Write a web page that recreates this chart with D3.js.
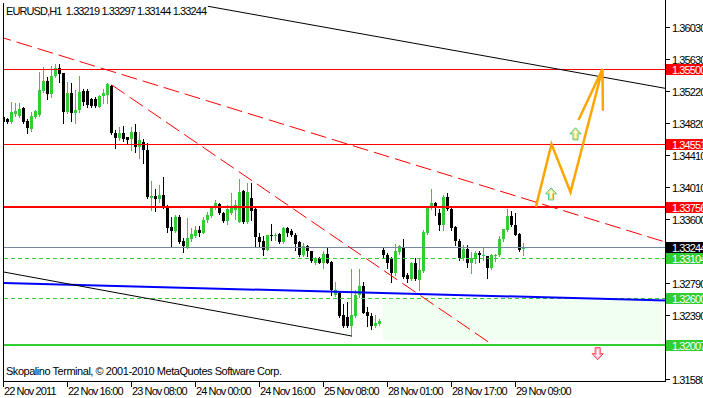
<!DOCTYPE html>
<html>
<head>
<meta charset="utf-8">
<script src="https://cdn.jsdelivr.net/npm/d3@7"></script>
<style>
body { margin: 0; background: #fff; }
svg { display: block; font-family: "Liberation Sans", Arial, sans-serif; font-size: 11px; letter-spacing: -0.9px; }
</style>
</head>
<body>
<svg id="chart" width="703" height="398"></svg>
<script>
// EURUSD H1 bars, 22 Nov 2011 00:00 .. 29 Nov 2011 11:00
var openP = [1.3489,1.3487,1.3483,1.3493,1.3491,1.3501,1.3484,1.3474,1.3489,1.3492,
 1.3522,1.3535,1.3518,1.3541,1.3551,1.3545,1.3496,1.3520,1.3494,1.3498,
 1.3522,1.3522,1.3512,1.3512,1.3502,1.3516,1.3517,1.3528,1.3469,1.3463,
 1.3469,1.3464,1.3461,1.3470,1.3451,1.3458,1.3448,1.3387,1.3389,1.3386,
 1.3391,1.3377,1.3350,1.3345,1.3363,1.3333,1.3324,1.3335,1.3339,1.3346,
 1.3343,1.3359,1.3364,1.3375,1.3379,1.3368,1.3358,1.3368,1.3372,1.3357,
 1.3396,1.3357,1.3387,1.3373,1.3338,1.3333,1.3321,1.3340,1.3339,1.3341,
 1.3331,1.3349,1.3345,1.3340,1.3331,1.3315,1.3326,1.3320,1.3305,1.3311,
 1.3305,1.3316,1.3306,1.3264,1.3267,1.3239,1.3237,1.3225,1.3238,1.3264,
 1.3275,1.3243,1.3238,1.3225,1.3227,1.3321,1.3315,1.3311,1.3292,1.3319,
 1.3325,1.3290,1.3284,1.3305,1.3283,1.3295,1.3343,1.3374,1.3381,1.3368,
 1.3353,1.3388,1.3373,1.3350,1.3333,1.3311,1.3322,1.3305,1.3310,1.3317,
 1.3314,1.3314,1.3298,1.3314,1.3315,1.3335,1.3346,1.3364,1.3353,1.3341,
 1.33219];
var highP = [1.3492,1.3488,1.3508,1.3507,1.3507,1.3502,1.3487,1.3496,1.3498,1.3546,
 1.3552,1.3540,1.3554,1.3556,1.3556,1.3545,1.3533,1.3532,1.3523,1.3541,
 1.3525,1.3525,1.3513,1.3515,1.3517,1.3525,1.3532,1.3530,1.3473,1.3477,
 1.3478,1.3464,1.3477,1.3480,1.3470,1.3461,1.3456,1.3408,1.3398,1.3403,
 1.3413,1.3378,1.3363,1.3365,1.3365,1.3336,1.3361,1.3349,1.3351,1.3351,
 1.3363,1.3369,1.3377,1.3384,1.3381,1.3369,1.3378,1.3393,1.3384,1.3411,
 1.3397,1.3406,1.3406,1.3375,1.3343,1.3339,1.3340,1.3354,1.3343,1.3343,
 1.3350,1.3350,1.3348,1.3343,1.3333,1.3330,1.3327,1.3320,1.3312,1.3312,
 1.3320,1.3324,1.3307,1.3281,1.3268,1.3253,1.3255,1.3297,1.3271,1.3297,
 1.3280,1.3249,1.3241,1.3239,1.3234,1.3324,1.3317,1.3312,1.3329,1.3327,
 1.3335,1.3292,1.3306,1.3311,1.3311,1.3346,1.3375,1.3398,1.3382,1.3373,
 1.3391,1.3393,1.3374,1.3351,1.3335,1.3327,1.3327,1.3319,1.3320,1.3320,
 1.3324,1.3314,1.3316,1.3316,1.3339,1.3348,1.3373,1.3370,1.3368,1.3343,
 1.33297];
var lowP = [1.3480,1.3482,1.3482,1.3491,1.3489,1.3482,1.3469,1.3472,1.3488,1.3491,
 1.3521,1.3512,1.3515,1.3540,1.3533,1.3482,1.3494,1.3484,1.3482,1.3496,
 1.3504,1.3502,1.3502,1.3502,1.3502,1.3507,1.3507,1.3468,1.3450,1.3460,
 1.3459,1.3455,1.3448,1.3445,1.3437,1.3431,1.3387,1.3372,1.3370,1.3382,
 1.3374,1.3344,1.3325,1.3344,1.3330,1.3319,1.3324,1.3333,1.3338,1.3339,
 1.3343,1.3357,1.3363,1.3373,1.3366,1.3357,1.3354,1.3366,1.3360,1.3357,
 1.3355,1.3355,1.3359,1.3325,1.3325,1.3315,1.3321,1.3334,1.3334,1.3330,
 1.3330,1.3339,1.3339,1.3321,1.3314,1.3314,1.3314,1.3306,1.3303,1.3305,
 1.3298,1.3305,1.3264,1.3263,1.3237,1.3224,1.3224,1.3212,1.3237,1.3262,
 1.3241,1.3225,1.3221,1.3224,1.3226,1.3312,1.3298,1.3281,1.3290,1.3316,
 1.3286,1.3281,1.3283,1.3283,1.3271,1.3293,1.3341,1.3373,1.3365,1.3346,
 1.3346,1.3372,1.3346,1.3327,1.3308,1.3308,1.3300,1.3292,1.3305,1.3306,
 1.3308,1.3286,1.3297,1.3307,1.3314,1.3333,1.3345,1.3351,1.3340,1.3320,
 1.33144];
var closeP = [1.3483,1.3483,1.3496,1.3497,1.3499,1.3483,1.3475,1.3491,1.3497,1.3523,
 1.3535,1.3518,1.3541,1.3551,1.3544,1.3496,1.3520,1.3494,1.3498,1.3521,
 1.3508,1.3504,1.3503,1.3503,1.3516,1.3520,1.3531,1.3469,1.3463,1.3469,
 1.3461,1.3460,1.3470,1.3451,1.3460,1.3448,1.3388,1.3389,1.3386,1.3391,
 1.3375,1.3349,1.3345,1.3363,1.3331,1.3326,1.3336,1.3341,1.3346,1.3343,
 1.3359,1.3365,1.3375,1.3381,1.3368,1.3358,1.3373,1.3374,1.3378,1.3394,
 1.3357,1.3394,1.3370,1.3338,1.3331,1.3321,1.3340,1.3339,1.3340,1.3331,
 1.3349,1.3343,1.3340,1.3329,1.3315,1.3326,1.3320,1.3307,1.3311,1.3305,
 1.3316,1.3305,1.3271,1.3271,1.3238,1.3225,1.3225,1.3239,1.3264,1.3275,
 1.3241,1.3238,1.3225,1.3229,1.3231,1.3315,1.3305,1.3292,1.3320,1.3326,
 1.3287,1.3284,1.3305,1.3284,1.3296,1.3344,1.3374,1.3381,1.3374,1.3353,
 1.3388,1.3373,1.3349,1.3333,1.3311,1.3322,1.3305,1.3311,1.3317,1.3315,
 1.3315,1.3298,1.3315,1.3315,1.3335,1.3348,1.3364,1.3353,1.3340,1.3321,
 1.33244];

var timeTickBars = [0, 16, 32, 48, 64, 80, 96, 112, 128];
var timeTickLabels = ["22 Nov 2011", "22 Nov 16:00", "23 Nov 08:00", "24 Nov 00:00", "24 Nov 16:00",
                      "25 Nov 08:00", "28 Nov 01:00", "28 Nov 17:00", "29 Nov 09:00"];
var priceTicks = [1.36030, 1.35630, 1.35220, 1.34820, 1.34410, 1.34010, 1.33600, 1.32790, 1.32390, 1.31580];

var resistLevels = [1.35500, 1.34551];
var pivotLevel = 1.33756;
var bidPrice = 1.33244;
var supportDashed = [1.33104, 1.32600];
var supportLevel = 1.32007;

// trend lines as [bar, price] anchor pairs
var trendRed = [[0, 1.35891], [165.4, 1.33312]];
var trendRedSteep = [[27, 1.35300], [121.6, 1.32035]];
var trendBlackTop = [[51.1, 1.36292], [165.4, 1.35255]];
var trendBlackLow = [[0, 1.32933], [87, 1.32124]];
var blueLine = [[0, 1.32794], [165.4, 1.32572]];
var forecast = [[133.1, 1.33756], [137, 1.34551], [141.75, 1.33940], [149.75, 1.35500]];
var forecastHead = [[143.75, 1.34854], [149.75, 1.35500], [149.85, 1.34972]];
var upArrows = [[136.9, 1.33920], [143, 1.34680]];
var downArrows = [[148.55, 1.31900]];
var zoneBars = [95, 164.9];
var zonePrices = [1.32600, 1.32073];

var title = "EURUSD,H1  1.33219 1.33297 1.33144 1.33244";
var copyright = "Skopalino Terminal, \u00a9 2001-2010 MetaQuotes Software Corp.";

var svg = d3.select("#chart");
var plotLeft = 3.5, plotRight = 665.5, plotTop = 3, plotBottom = 381.5;

var x = d3.scaleLinear().domain([0, 1]).range([3.5, 7.5]);
var y = d3.scaleLinear().domain([1.31580, 1.36030]).range([379, 27]);

var green = "#32cd32";

svg.append("rect").attr("width", 703).attr("height", 398).attr("fill", "#fff");

svg.append("clipPath").attr("id", "plot")
    .append("rect").attr("x", 4).attr("y", plotTop).attr("width", plotRight - 4).attr("height", plotBottom - plotTop);

var plot = svg.append("g").attr("clip-path", "url(#plot)");

// light green zone
plot.append("rect")
    .attr("x", x(zoneBars[0]) - 0.5)
    .attr("y", y(zonePrices[0]))
    .attr("width", x(zoneBars[1]) - x(zoneBars[0]))
    .attr("height", y(zonePrices[1]) - y(zonePrices[0]))
    .attr("fill", "#f0fff0");

// candles
var bars = d3.range(openP.length);
var candle = plot.append("g").attr("shape-rendering", "crispEdges");
function col(i){ return closeP[i] > openP[i] ? green : "#000"; }
candle.selectAll("line").data(bars).enter().append("line")
    .attr("x1", function(i){ return x(i); })
    .attr("x2", function(i){ return x(i); })
    .attr("y1", function(i){ return Math.round(y(highP[i])); })
    .attr("y2", function(i){ return Math.round(y(lowP[i])) + 1; })
    .attr("stroke", col);
candle.selectAll("rect").data(bars).enter().append("rect")
    .attr("x", function(i){ return x(i) - 1.5; })
    .attr("y", function(i){ return Math.round(y(Math.max(openP[i], closeP[i]))); })
    .attr("width", 3)
    .attr("height", function(i){ return Math.max(1, Math.round(y(Math.min(openP[i], closeP[i]))) - Math.round(y(Math.max(openP[i], closeP[i])))); })
    .attr("fill", col);

function hline(p, color, w, dash){
    var yy = Math.round(y(p)) + (w % 2 ? 0.5 : 0);
    var l = plot.append("line")
        .attr("x1", 4).attr("x2", plotRight)
        .attr("y1", yy).attr("y2", yy)
        .attr("stroke", color).attr("stroke-width", w)
        .attr("shape-rendering", "crispEdges");
    if (dash) l.attr("stroke-dasharray", dash);
}
function extend(pts, b0, b1){
    var s = (pts[1][1] - pts[0][1]) / (pts[1][0] - pts[0][0]);
    return [[b0, pts[0][1] + s * (b0 - pts[0][0])], [b1, pts[0][1] + s * (b1 - pts[0][0])]];
}
var line = d3.line().x(function(d){ return x(d[0]); }).y(function(d){ return y(d[1]); });

// levels
resistLevels.forEach(function(p){ hline(p, "#ff0000", 1); });
hline(pivotLevel, "#ff0000", 2);
hline(bidPrice, "#778899", 1);
supportDashed.forEach(function(p){ hline(p, green, 1, "4,3"); });
hline(supportLevel, green, 2);

// trend lines
plot.append("path").attr("d", line(extend(blueLine, -2, 167)))
    .attr("fill", "none").attr("stroke", "#0000ff").attr("stroke-width", 2);
plot.append("path").attr("d", line(extend(trendBlackTop, 51.1, 167)))
    .attr("fill", "none").attr("stroke", "#000").attr("stroke-width", 1);
plot.append("path").attr("d", line(extend(trendBlackLow, -1, 87)))
    .attr("fill", "none").attr("stroke", "#000").attr("stroke-width", 1);
plot.append("path").attr("d", line(extend(trendRed, -2, 167)))
    .attr("fill", "none").attr("stroke", "#ff0000").attr("stroke-width", 1)
    .attr("stroke-dasharray", "16,6");
plot.append("path").attr("d", line(trendRedSteep))
    .attr("fill", "none").attr("stroke", "#ff0000").attr("stroke-width", 1)
    .attr("stroke-dasharray", "16,6");

// forecast path
plot.append("path").attr("d", line(forecast))
    .attr("fill", "none").attr("stroke", "#ffa500").attr("stroke-width", 2.5)
    .attr("stroke-linejoin", "miter");
plot.append("path").attr("d", line(forecastHead))
    .attr("fill", "none").attr("stroke", "#ffa500").attr("stroke-width", 2.5);

// arrow signs (outlined, like the terminal's wingdings arrows)
var upShape = "M0,-6L5.5,0L2.5,0L2.5,6L-2.5,6L-2.5,0L-5.5,0Z";
var upInner = "M0,-4.5L3.5,-0.8L1.5,-0.8L1.5,5L-1.5,5L-1.5,-0.8L-3.5,-0.8Z";
var downShape = "M0,6L5.5,0L2.5,0L2.5,-6L-2.5,-6L-2.5,0L-5.5,0Z";
var downInner = "M0,4.5L3.5,0.8L1.5,0.8L1.5,-5L-1.5,-5L-1.5,0.8L-3.5,0.8Z";
function pos(d){ return "translate(" + x(d[0]) + "," + y(d[1]) + ")"; }
var ups = plot.selectAll(".up").data(upArrows).enter().append("g").attr("class", "up").attr("transform", pos);
ups.append("path").attr("d", upShape).attr("fill", "#fff").attr("stroke", "#3cc878").attr("stroke-width", 1);
ups.append("path").attr("d", upInner).attr("fill", "#fff").attr("stroke", "#f0d040").attr("stroke-width", 1);
var downs = plot.selectAll(".down").data(downArrows).enter().append("g").attr("class", "down").attr("transform", pos);
downs.append("path").attr("d", downShape).attr("fill", "#fff").attr("stroke", "#ff3030").attr("stroke-width", 1);
downs.append("path").attr("d", downInner).attr("fill", "#fff").attr("stroke", "#ff90c0").attr("stroke-width", 1);

// frame
svg.append("g").attr("stroke", "#000").attr("shape-rendering", "crispEdges")
    .call(function(g){
        g.append("line").attr("x1", plotLeft).attr("x2", plotLeft).attr("y1", plotTop).attr("y2", plotBottom);
        g.append("line").attr("x1", plotRight).attr("x2", plotRight).attr("y1", 0).attr("y2", plotBottom);
        g.append("line").attr("x1", plotLeft).attr("x2", plotRight).attr("y1", plotBottom).attr("y2", plotBottom);
    });

// price axis
var yAxis = svg.append("g");
priceTicks.forEach(function(p){
    var yy = Math.round(y(p)) + 0.5;
    yAxis.append("line").attr("x1", plotRight).attr("x2", plotRight + 4).attr("y1", yy).attr("y2", yy)
        .attr("stroke", "#000").attr("shape-rendering", "crispEdges");
    yAxis.append("text").attr("x", 672).attr("y", yy + 4).attr("fill", "#000").text(p.toFixed(5));
});

// right-hand level labels
function tag(p, color){
    var yy = Math.round(y(p));
    svg.append("rect").attr("x", 666).attr("y", yy - 5).attr("width", 37).attr("height", 11)
        .attr("fill", color).attr("shape-rendering", "crispEdges");
    svg.append("text").attr("x", 672).attr("y", yy + 4.5).attr("fill", "#fff").text(p.toFixed(5));
}
resistLevels.forEach(function(p){ tag(p, "#ff0000"); });
tag(pivotLevel, "#ff0000");
tag(bidPrice, "#000");
supportDashed.forEach(function(p){ tag(p, green); });
tag(supportLevel, green);

// time axis
timeTickBars.forEach(function(b, i){
    var xx = Math.round(x(b)) - 0.5;
    svg.append("line").attr("x1", xx).attr("x2", xx).attr("y1", plotBottom).attr("y2", plotBottom + 5)
        .attr("stroke", "#000").attr("shape-rendering", "crispEdges");
    svg.append("text").attr("x", xx + 0.5).attr("y", 394.5).attr("fill", "#000").text(timeTickLabels[i]);
});

svg.append("text").attr("x", 6).attr("y", 14.5).attr("fill", "#000")
    .style("white-space", "pre").style("letter-spacing", "0px")
    .attr("textLength", 201).attr("lengthAdjust", "spacing").text(title);
svg.append("text").attr("x", 6).attr("y", 375).attr("fill", "#000")
    .style("letter-spacing", "0px")
    .attr("textLength", 276).attr("lengthAdjust", "spacing").text(copyright);
</script>
</body>
</html>
